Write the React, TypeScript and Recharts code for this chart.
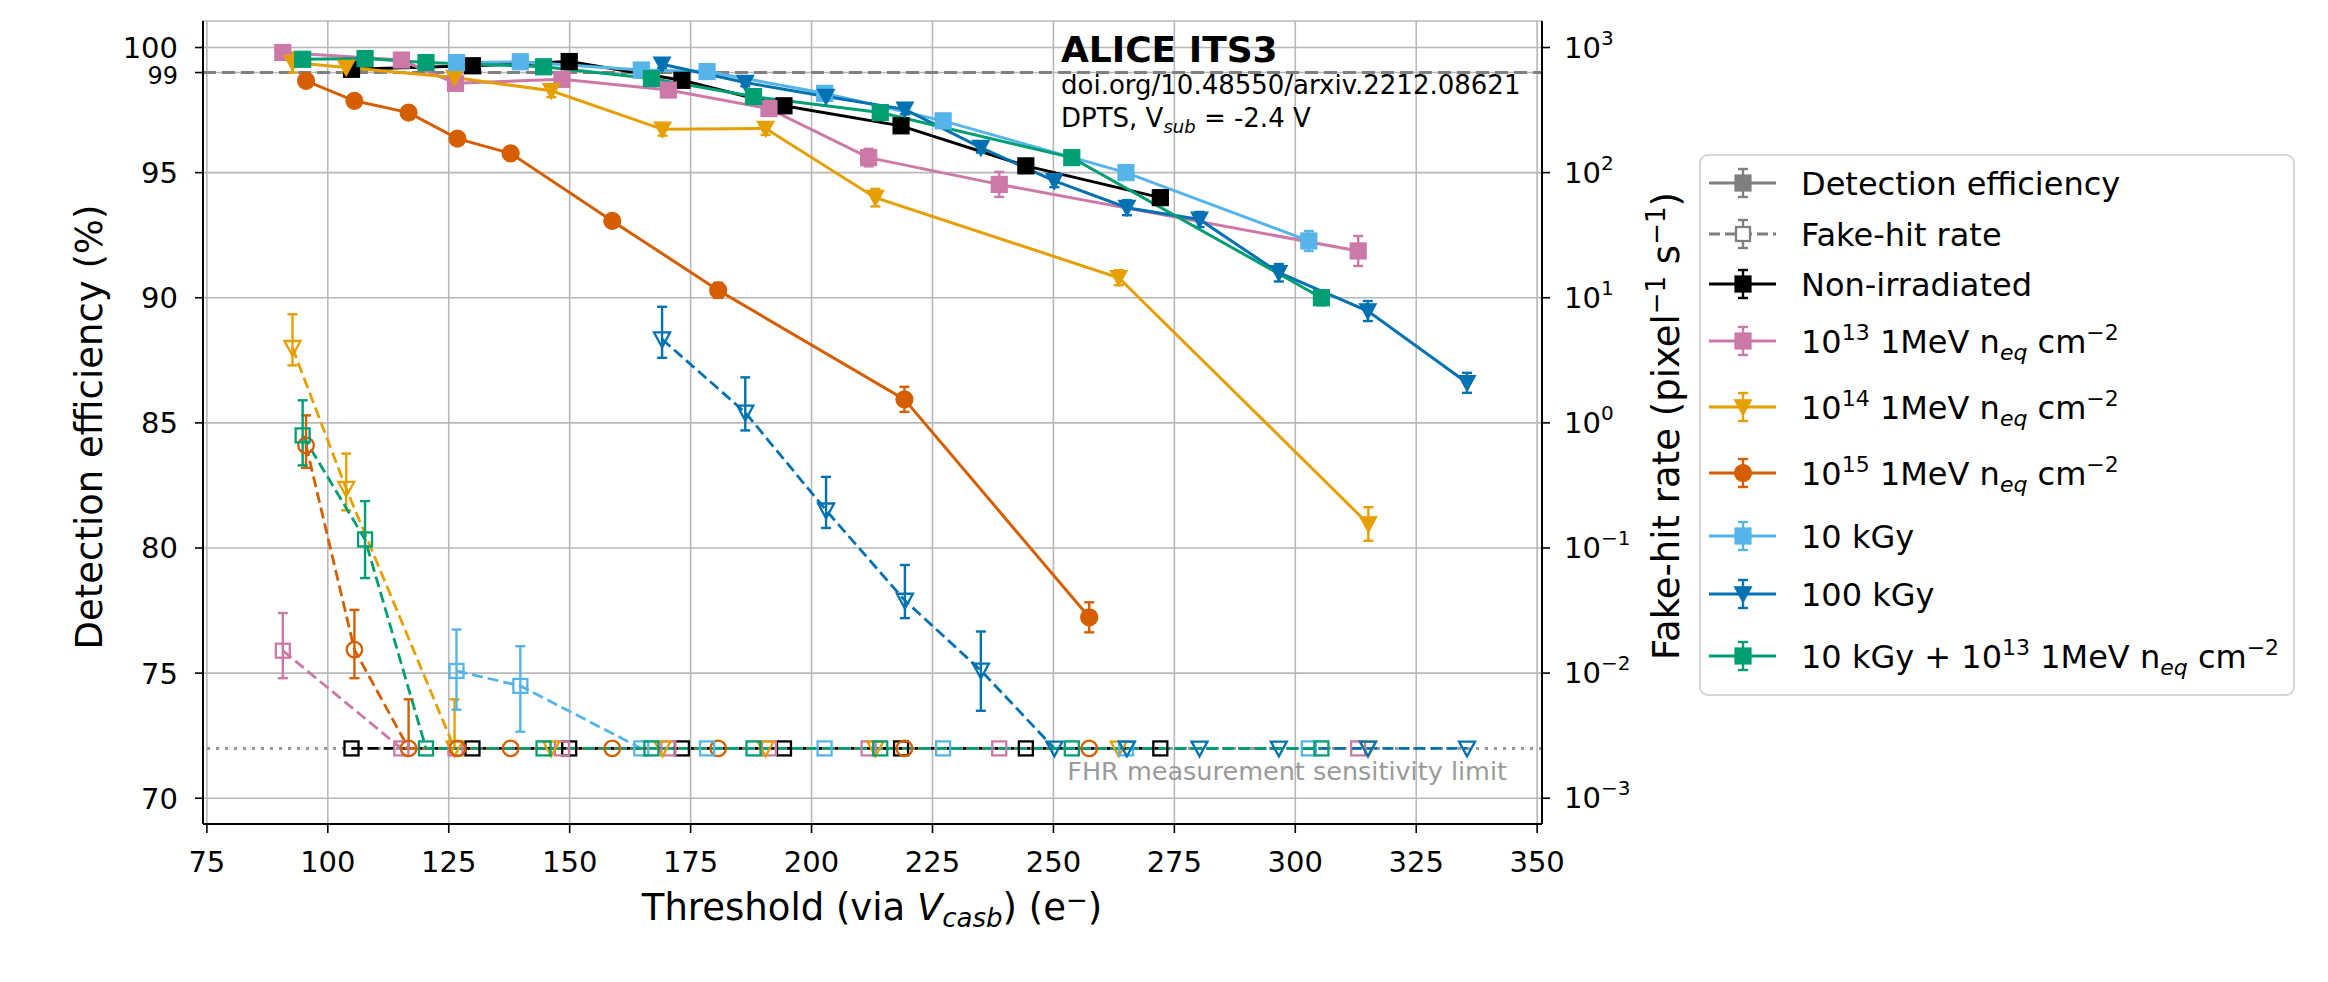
import React from 'react';
import {
  ComposedChart,
  Line,
  XAxis,
  YAxis,
  CartesianGrid,
  ErrorBar,
  ReferenceLine,
} from 'recharts';

const W = 2328;
const H = 982;
const FONT = "'DejaVu Sans', 'Liberation Sans', sans-serif";

// ---------- axes ----------
const xTicks = [75, 100, 125, 150, 175, 200, 225, 250, 275, 300, 325, 350];
const effTicks = [70, 75, 80, 85, 90, 95, 99, 100];
const fhrTicks = [1e-3, 1e-2, 1e-1, 1, 10, 100, 1000];
const xDomain = [74.2, 351.0];
const effDomain = [68.97, 101.06];
const fhrDomain = [6.22e-4, 1629];

// FHR measurement sensitivity limit (pixel^-1 s^-1)
const LIMIT = 0.0025;
const L = LIMIT;

// ---------- Non-irradiated ----------
const nonIrrThr = [104.9, 129.9, 149.9, 173.2, 194.3, 218.5, 244.3, 272.1];
const nonIrrEff = [99.13, 99.27, 99.44, 98.69, 97.67, 96.87, 95.27, 94.0];
const nonIrrEffErr = [0.12, 0.12, 0.12, 0.15, 0.15, 0.2, 0.25, 0.25];
const nonIrrFhr = [L, L, L, L, L, L, L, L];
const nonIrrFhrLo = [null, null, null, null, null, null, null, null];
const nonIrrFhrHi = [null, null, null, null, null, null, null, null];

// ---------- 1e13 ----------
const n13Thr = [90.7, 115.2, 126.4, 148.4, 170.4, 191.2, 211.8, 238.8, 313.0];
const n13Eff = [99.8, 99.5, 98.57, 98.73, 98.3, 97.56, 95.6, 94.53, 91.87];
const n13EffErr = [0.1, 0.1, 0.3, 0.2, 0.2, 0.25, 0.35, 0.5, 0.6];
const n13Fhr = [0.0151, L, L, L, L, L, L, L, L];
const n13FhrLo = [0.0091, null, null, null, null, null, null, null, null];
const n13FhrHi = [0.0302, null, null, null, null, null, null, null, null];

// ---------- 1e14 ----------
const n14Thr = [92.7, 103.8, 126.2, 146.2, 169.2, 190.5, 213.2, 263.5, 315.1];
const n14Eff = [99.4, 99.2, 98.8, 98.27, 96.73, 96.76, 94.0, 90.8, 80.96];
const n14EffErr = [0.4, 0.2, 0.2, 0.25, 0.25, 0.25, 0.35, 0.3, 0.67];
const n14Fhr = [3.98, 0.298, L, L, L, L, L, L, L];
const n14FhrLo = [2.88, 0.2, L, null, null, null, null, null, null];
const n14FhrHi = [7.38, 0.568, 0.00617, null, null, null, null, null, null];

// ---------- 1e15 ----------
const n15Thr = [95.5, 105.5, 116.7, 126.8, 137.8, 158.8, 180.7, 219.2, 257.4];
const n15Eff = [98.67, 97.87, 97.4, 96.36, 95.77, 93.07, 90.3, 85.94, 77.23];
const n15EffErr = [0.2, 0.2, 0.2, 0.2, 0.2, 0.2, 0.3, 0.5, 0.6];
const n15Fhr = [0.661, 0.0154, L, L, L, L, L, L, L];
const n15FhrLo = [0.437, 0.0091, L, null, null, null, null, null, null];
const n15FhrHi = [1.148, 0.032, 0.00617, null, null, null, null, null, null];

// ---------- 10 kGy ----------
const k10Thr = [126.6, 139.8, 164.8, 178.4, 202.7, 227.2, 265.0, 302.8];
const k10Eff = [99.4, 99.43, 99.1, 99.04, 98.17, 97.07, 95.0, 92.27];
const k10EffErr = [0.12, 0.12, 0.12, 0.15, 0.2, 0.2, 0.25, 0.4];
const k10Fhr = [0.0104, 0.0079, L, L, L, L, L, L];
const k10FhrLo = [0.0051, 0.0034, null, null, null, null, null, null];
const k10FhrHi = [0.0223, 0.0164, null, null, null, null, null, null];

// ---------- 100 kGy ----------
const k100Thr = [169.1, 186.3, 203.0, 219.3, 235.0, 250.2, 265.2, 280.2, 296.6, 315.0, 335.5];
const k100Eff = [99.33, 98.6, 98.04, 97.53, 96.0, 94.67, 93.6, 93.13, 91.0, 89.47, 86.6];
const k100EffErr = [0.15, 0.15, 0.15, 0.2, 0.2, 0.25, 0.3, 0.3, 0.35, 0.4, 0.4];
const k100Fhr = [4.66, 1.21, 0.2, 0.038, 0.0105, L, L, L, L, L, L];
const k100FhrLo = [3.31, 0.87, 0.1445, 0.0275, 0.005, null, null, null, null, null, null];
const k100FhrHi = [8.47, 2.31, 0.37, 0.0731, 0.0215, null, null, null, null, null, null];

// ---------- 10 kGy + 1e13 ----------
const mixThr = [94.8, 107.7, 120.3, 144.6, 166.9, 188.0, 214.2, 253.8, 305.4];
const mixEff = [99.53, 99.56, 99.4, 99.23, 98.76, 98.04, 97.4, 95.6, 90.0];
const mixEffErr = [0.12, 0.12, 0.12, 0.15, 0.15, 0.2, 0.2, 0.25, 0.3];
const mixFhr = [0.794, 0.117, L, L, L, L, L, L, L];
const mixFhrLo = [0.457, 0.0575, null, null, null, null, null, null, null];
const mixFhrHi = [1.514, 0.237, null, null, null, null, null, null, null];

type Shape = 'square' | 'circle' | 'tri';

const series = [
  { id: 'nonirr', color: '#000000', shape: 'square' as Shape, thr: nonIrrThr, eff: nonIrrEff, effErr: nonIrrEffErr, fhr: nonIrrFhr, lo: nonIrrFhrLo, hi: nonIrrFhrHi },
  { id: 'n13', color: '#cc79a7', shape: 'square' as Shape, thr: n13Thr, eff: n13Eff, effErr: n13EffErr, fhr: n13Fhr, lo: n13FhrLo, hi: n13FhrHi },
  { id: 'n14', color: '#e69f00', shape: 'tri' as Shape, thr: n14Thr, eff: n14Eff, effErr: n14EffErr, fhr: n14Fhr, lo: n14FhrLo, hi: n14FhrHi },
  { id: 'n15', color: '#d55e00', shape: 'circle' as Shape, thr: n15Thr, eff: n15Eff, effErr: n15EffErr, fhr: n15Fhr, lo: n15FhrLo, hi: n15FhrHi },
  { id: 'k10', color: '#56b4e9', shape: 'square' as Shape, thr: k10Thr, eff: k10Eff, effErr: k10EffErr, fhr: k10Fhr, lo: k10FhrLo, hi: k10FhrHi },
  { id: 'k100', color: '#0072b2', shape: 'tri' as Shape, thr: k100Thr, eff: k100Eff, effErr: k100EffErr, fhr: k100Fhr, lo: k100FhrLo, hi: k100FhrHi },
  { id: 'mix', color: '#009e73', shape: 'square' as Shape, thr: mixThr, eff: mixEff, effErr: mixEffErr, fhr: mixFhr, lo: mixFhrLo, hi: mixFhrHi },
];

function effData(s: any) {
  return s.thr.map((x: number, i: number) => ({ x, y: s.eff[i], err: s.effErr[i] }));
}
function fhrData(s: any) {
  return s.thr.map((x: number, i: number) => {
    const v = s.fhr[i];
    const lo = s.lo[i];
    const hi = s.hi[i];
    return { x, y: v, err: lo == null || hi == null ? undefined : [v - lo, hi - v] };
  });
}

function MarkerShape({ shape, cx, cy, color, filled }: { shape: Shape; cx: number; cy: number; color: string; filled: boolean }) {
  const fill = filled ? color : 'none';
  const sw = filled ? 1.2 : 2.3;
  if (shape === 'square') {
    const h = filled ? 8 : 7;
    return <rect x={cx - h} y={cy - h} width={2 * h} height={2 * h} fill={fill} stroke={color} strokeWidth={sw} />;
  }
  if (shape === 'circle') {
    return <circle cx={cx} cy={cy} r={filled ? 8.5 : 7.8} fill={fill} stroke={color} strokeWidth={sw} />;
  }
  const r = filled ? 8.5 : 8;
  return (
    <polygon
      points={`${cx - r},${cy - r * 0.85} ${cx + r},${cy - r * 0.85} ${cx},${cy + r}`}
      fill={fill}
      stroke={color}
      strokeWidth={sw}
      strokeLinejoin="miter"
    />
  );
}

const makeDot = (shape: Shape, color: string, filled: boolean, tag: string) => (props: any) => {
  const { cx, cy, index } = props;
  if (cx == null || cy == null || isNaN(cx) || isNaN(cy)) return <g key={`${tag}-${index}`} />;
  return (
    <g key={`${tag}-${index}`}>
      <MarkerShape shape={shape} cx={cx} cy={cy} color={color} filled={filled} />
    </g>
  );
};

function LogTick(props: any) {
  const { x, y, payload } = props;
  const e = Math.round(Math.log10(payload.value));
  const exp = e < 0 ? '\u2212' + Math.abs(e) : String(e);
  return (
    <text x={x} y={y + 10} fontSize={29} fontFamily={FONT} fill="#000" textAnchor="start">
      10
      <tspan dy={-13} fontSize={20}>
        {exp}
      </tspan>
    </text>
  );
}

function EffTick(props: any) {
  const { x, y, payload } = props;
  const small = payload.value === 99;
  const fs = small ? 24 : 29;
  const shift = small ? 3 : 0;
  return (
    <text x={x} y={y + fs * 0.36 + shift} fontSize={fs} fontFamily={FONT} fill="#000" textAnchor="end">
      {payload.value}
    </text>
  );
}

// legend
const legendRows = [
  { kind: 'eff', label: 'Detection efficiency', color: '#7f7f7f', shape: 'square' as Shape, cy: 183 },
  { kind: 'fhr', label: 'Fake-hit rate', color: '#7f7f7f', shape: 'square' as Shape, cy: 234 },
  { kind: 'eff', label: 'Non-irradiated', color: '#000000', shape: 'square' as Shape, cy: 284 },
  { kind: 'eff', label: 'n13', color: '#cc79a7', shape: 'square' as Shape, cy: 341 },
  { kind: 'eff', label: 'n14', color: '#e69f00', shape: 'tri' as Shape, cy: 407 },
  { kind: 'eff', label: 'n15', color: '#d55e00', shape: 'circle' as Shape, cy: 473 },
  { kind: 'eff', label: '10 kGy', color: '#56b4e9', shape: 'square' as Shape, cy: 536 },
  { kind: 'eff', label: '100 kGy', color: '#0072b2', shape: 'tri' as Shape, cy: 594 },
  { kind: 'eff', label: 'mix', color: '#009e73', shape: 'square' as Shape, cy: 656 },
];

function Fluence({ exp, prefix }: { exp: string; prefix?: string }) {
  return (
    <>
      {prefix ? <tspan>{prefix}</tspan> : null}
      <tspan>10</tspan>
      <tspan dy={-13} fontSize={22}>
        {exp}
      </tspan>
      <tspan dy={13}>{' 1MeV n'}</tspan>
      <tspan dy={7} fontSize={22} fontStyle="italic">
        eq
      </tspan>
      <tspan dy={-7}>{' cm'}</tspan>
      <tspan dy={-13} fontSize={22}>
        {'\u22122'}
      </tspan>
    </>
  );
}

function LegendLabel({ label }: { label: string }) {
  if (label === 'n13') return <Fluence exp="13" />;
  if (label === 'n14') return <Fluence exp="14" />;
  if (label === 'n15') return <Fluence exp="15" />;
  if (label === 'mix') return <Fluence exp="13" prefix="10 kGy + " />;
  return <>{label}</>;
}

function Overlay() {
  const lx0 = 1709;
  const lx1 = 1776;
  const mx = 1743;
  return (
    <svg width={W} height={H} style={{ position: 'absolute', left: 0, top: 0, pointerEvents: 'none' }} fontFamily={FONT}>
      {/* x label */}
      <text x={872} y={920} fontSize={37} textAnchor="middle" fill="#000">
        {'Threshold (via '}
        <tspan fontStyle="italic">V</tspan>
        <tspan fontStyle="italic" fontSize={26} dy={7}>
          casb
        </tspan>
        <tspan dy={-7}>{') (e'}</tspan>
        <tspan fontSize={26} dy={-11}>
          {'\u2212'}
        </tspan>
        <tspan dy={11}>)</tspan>
      </text>
      {/* left y label */}
      <text transform="translate(102,427) rotate(-90)" fontSize={37} textAnchor="middle" fill="#000">
        Detection efficiency (%)
      </text>
      {/* right y label */}
      <text transform="translate(1679,426) rotate(-90)" fontSize={37} textAnchor="middle" fill="#000">
        {'Fake-hit rate (pixel'}
        <tspan dy={-14} fontSize={26}>
          {'\u22121'}
        </tspan>
        <tspan dy={14}>{' s'}</tspan>
        <tspan dy={-14} fontSize={26}>
          {'\u22121'}
        </tspan>
        <tspan dy={14}>)</tspan>
      </text>
      {/* annotations */}
      <text x={1061} y={62} fontSize={36} fontWeight="bold" fill="#000">
        ALICE ITS3
      </text>
      <text x={1061} y={94} fontSize={26} fill="#000">
        doi.org/10.48550/arxiv.2212.08621
      </text>
      <text x={1061} y={127} fontSize={26} fill="#000">
        {'DPTS, V'}
        <tspan fontStyle="italic" fontSize={18} dy={6}>
          sub
        </tspan>
        <tspan dy={-6}>{' = -2.4 V'}</tspan>
      </text>
      <text x={1507} y={780} fontSize={25.5} fill="#9a9a9a" textAnchor="end">
        FHR measurement sensitivity limit
      </text>

      {/* legend */}
      <rect x={1700} y={155} width={594} height={540} rx={8} ry={8} fill="#ffffff" fillOpacity={0.85} stroke="#d6d6d6" strokeWidth={2} />
      {legendRows.map((r, i) => (
        <g key={`leg-${i}`}>
          <line
            x1={lx0}
            x2={lx1}
            y1={r.cy}
            y2={r.cy}
            stroke={r.color}
            strokeWidth={3}
            strokeDasharray={r.kind === 'fhr' ? '11 5' : undefined}
          />
          <line x1={mx} x2={mx} y1={r.cy - 14} y2={r.cy + 14} stroke={r.color} strokeWidth={2.4} />
          <line x1={mx - 5} x2={mx + 5} y1={r.cy - 14} y2={r.cy - 14} stroke={r.color} strokeWidth={2.4} />
          <line x1={mx - 5} x2={mx + 5} y1={r.cy + 14} y2={r.cy + 14} stroke={r.color} strokeWidth={2.4} />
          {r.kind === 'fhr' ? (
            <rect x={mx - 7} y={r.cy - 7} width={14} height={14} fill="#fff" stroke={r.color} strokeWidth={2.3} />
          ) : (
            <MarkerShape shape={r.shape} cx={mx} cy={r.cy} color={r.color} filled={true} />
          )}
          <text x={1801} y={r.cy + 12} fontSize={32} fill="#000">
            <LegendLabel label={r.label} />
          </text>
        </g>
      ))}
    </svg>
  );
}

export default function App() {
  return (
    <div style={{ position: 'absolute', left: 0, top: 0, width: W, height: H, background: '#ffffff', fontFamily: FONT }}>
      <ComposedChart
        width={W}
        height={H}
        margin={{ top: 21, right: 666, bottom: 98, left: 0 }}
        style={{ position: 'absolute', left: 0, top: 0 }}
      >
        <CartesianGrid xAxisId="x" yAxisId="left" stroke="#b8b8b8" strokeWidth={1.6} />
        <XAxis
          xAxisId="x"
          type="number"
          dataKey="x"
          domain={xDomain}
          ticks={xTicks}
          allowDataOverflow
          interval={0}
          height={60}
          tickSize={9}
          tickMargin={18}
          tick={{ fontSize: 29, fill: '#000', fontFamily: FONT }}
          axisLine={{ stroke: '#000', strokeWidth: 2 }}
          tickLine={{ stroke: '#000', strokeWidth: 1.6 }}
        />
        <XAxis
          xAxisId="top"
          orientation="top"
          type="number"
          dataKey="x"
          domain={xDomain}
          allowDataOverflow
          height={0}
          tick={false}
          tickLine={false}
          axisLine={{ stroke: '#000', strokeWidth: 2 }}
        />
        <YAxis
          yAxisId="left"
          orientation="left"
          type="number"
          domain={effDomain}
          ticks={effTicks}
          allowDataOverflow
          interval={0}
          width={203}
          tickSize={8}
          tickMargin={17}
          tick={<EffTick />}
          axisLine={{ stroke: '#000', strokeWidth: 2 }}
          tickLine={{ stroke: '#000', strokeWidth: 1.6 }}
        />
        <YAxis
          yAxisId="right"
          orientation="right"
          type="number"
          scale="log"
          domain={fhrDomain}
          ticks={fhrTicks}
          allowDataOverflow
          interval={0}
          width={120}
          tickSize={8}
          tickMargin={14}
          tick={<LogTick />}
          axisLine={{ stroke: '#000', strokeWidth: 2 }}
          tickLine={{ stroke: '#000', strokeWidth: 1.6 }}
        />
        <ReferenceLine xAxisId="x" yAxisId="left" y={99} stroke="#808080" strokeWidth={3} strokeDasharray="13 6" />
        <ReferenceLine xAxisId="x" yAxisId="right" y={LIMIT} stroke="#9a9a9a" strokeWidth={3} strokeDasharray="3 6" />

        {series.map((s) => (
          <Line
            key={`eff-${s.id}`}
            xAxisId="x"
            yAxisId="left"
            data={effData(s)}
            dataKey="y"
            type="linear"
            stroke={s.color}
            strokeWidth={3}
            dot={makeDot(s.shape, s.color, true, `de-${s.id}`)}
            activeDot={false}
            isAnimationActive={false}
          >
            <ErrorBar dataKey="err" direction="y" width={5} stroke={s.color} strokeWidth={2.4} />
          </Line>
        ))}
        {series.map((s) => (
          <Line
            key={`fhr-${s.id}`}
            xAxisId="x"
            yAxisId="right"
            data={fhrData(s)}
            dataKey="y"
            type="linear"
            stroke={s.color}
            strokeWidth={2.8}
            strokeDasharray="11 5"
            dot={makeDot(s.shape, s.color, false, `df-${s.id}`)}
            activeDot={false}
            isAnimationActive={false}
          >
            <ErrorBar dataKey="err" direction="y" width={5} stroke={s.color} strokeWidth={2.4} />
          </Line>
        ))}
      </ComposedChart>
      <Overlay />
    </div>
  );
}
